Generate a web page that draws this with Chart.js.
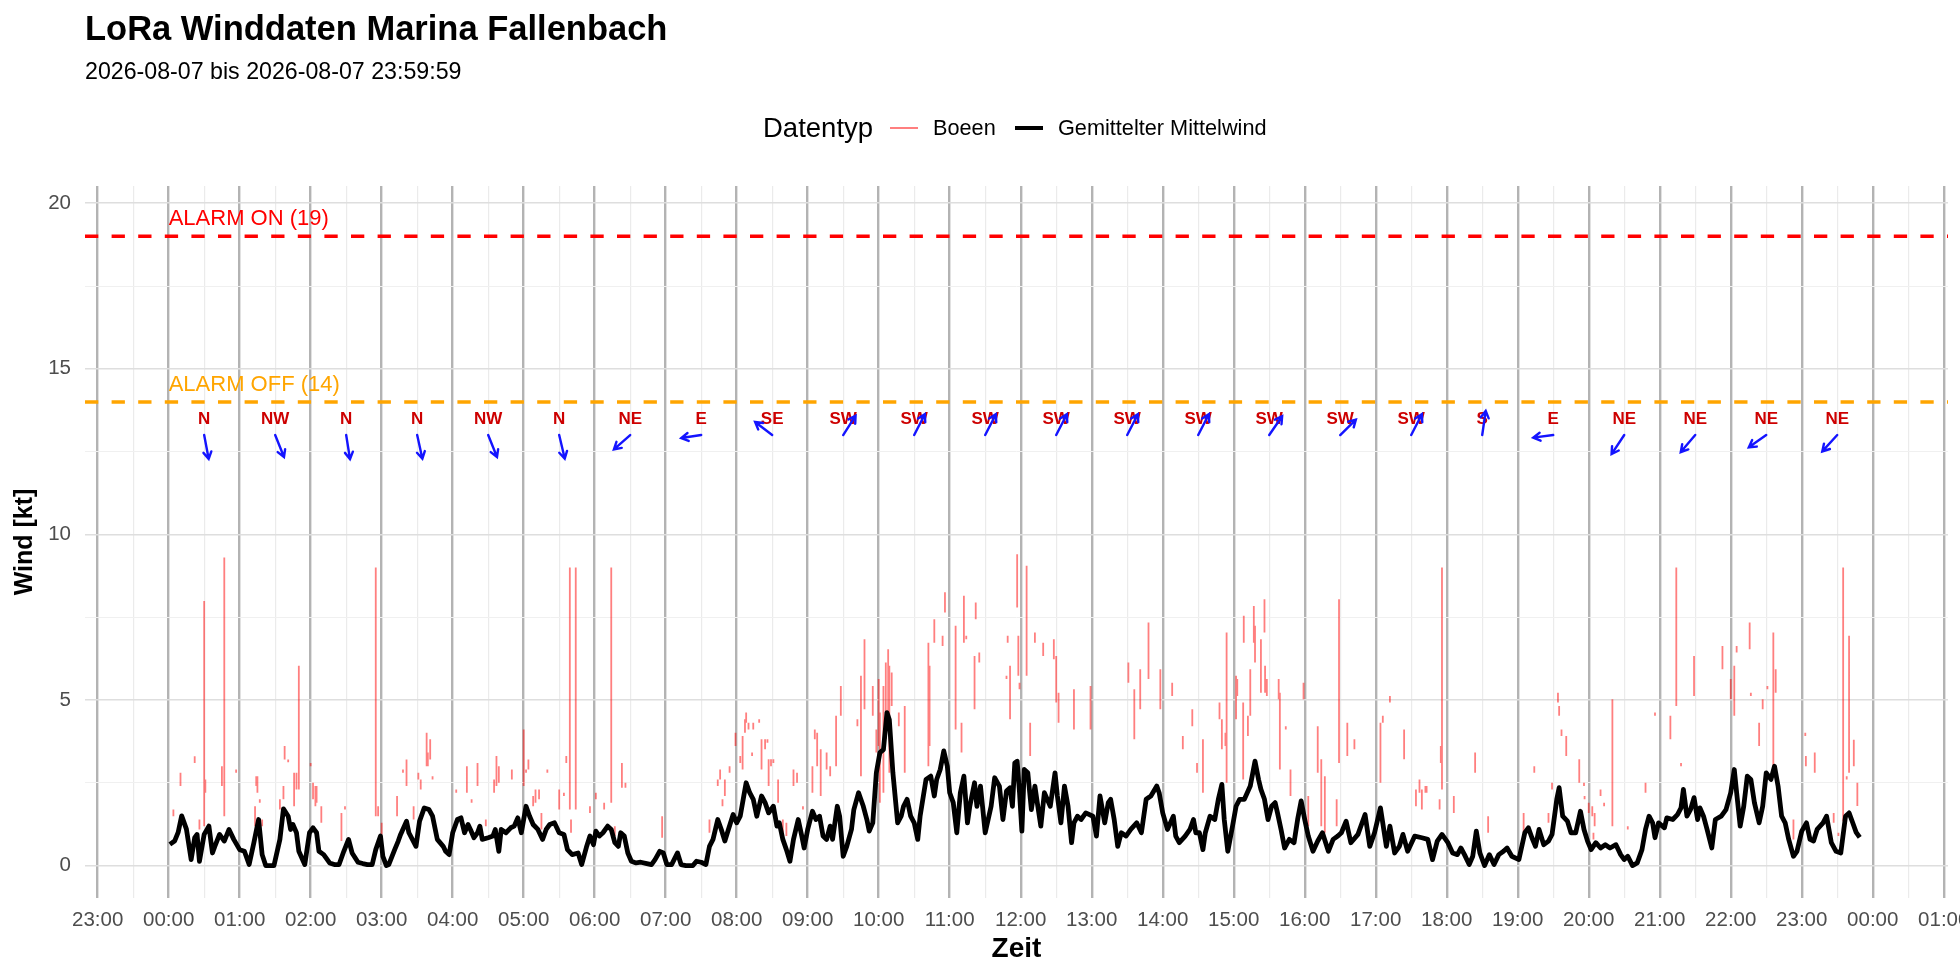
<!DOCTYPE html>
<html>
<head>
<meta charset="utf-8">
<title>LoRa Winddaten Marina Fallenbach</title>
<script src="https://cdn.jsdelivr.net/npm/chart.js@4.4.1/dist/chart.umd.min.js"></script>
<style>
  html, body { margin: 0; padding: 0; background: #fff; }
  #wrap { position: relative; width: 1960px; height: 980px; overflow: hidden;
          font-family: "Liberation Sans", Arial, Helvetica, sans-serif; color: #000; }
  #windChart { position: absolute; left: 0; top: 0; }
  .txt { position: absolute; line-height: 1; white-space: nowrap; }
  .title { left: 85px; top: 11px; font-size: 34.5px; font-weight: bold; }
  .subtitle { left: 85px; top: 60px; font-size: 23.2px; }
  .legend-title { left: 763px; top: 114px; font-size: 27.5px; }
  .legend-label { top: 117px; font-size: 21.7px; }
  .key { position: absolute; top: 128px; width: 28px; }
</style>
</head>
<body>
<div id="wrap">
  <canvas id="windChart" width="1960" height="980"></canvas>
  <div class="txt title">LoRa Winddaten Marina Fallenbach</div>
  <div class="txt subtitle">2026-08-07 bis 2026-08-07 23:59:59</div>
  <div class="txt legend-title">Datentyp</div>
  <div class="key" style="left:890px; height:2px; margin-top:-1px; background:rgba(255,0,0,0.5);"></div>
  <div class="txt legend-label" style="left:933px;">Boeen</div>
  <div class="key" style="left:1015px; height:4px; margin-top:-2px; background:#000;"></div>
  <div class="txt legend-label" style="left:1058px;">Gemittelter Mittelwind</div>
</div>
<script>
// Achsenbereich (Minuten ab 00:00 bzw. kt)
const X_MIN = -70.7;
const X_MAX = 1503.6;
const Y_MIN = -0.98;
const Y_MAX = 20.52;

// Gemittelter Mittelwind: Zeit (min ab 00:00) und Wert (kt)
const meanTimes = [
  1, 5, 8, 11, 15, 19, 22, 24, 26, 30, 34, 37, 39, 43, 47, 51, 55, 60, 64, 68,
  72, 76, 79, 82, 89, 94, 97, 101, 103, 105, 108, 110, 115, 119, 122, 125, 127, 131, 133, 136,
  140, 144, 148, 152, 155, 160, 164, 168, 172, 175, 179, 181, 184, 186, 191, 194, 196, 201, 203, 209,
  212, 216, 220, 223, 227, 232, 234, 237, 240, 244, 247, 250, 253, 255, 258, 261, 263, 265, 270, 274,
  276, 279, 281, 285, 289, 292, 295, 298, 302, 305, 308, 312, 316, 319, 322, 326, 330, 334, 337, 341,
  346, 349, 353, 356, 359, 361, 364, 367, 371, 374, 377, 380, 382, 385, 388, 391, 395, 399, 404, 408,
  411, 415, 418, 421, 425, 430, 433, 437, 443, 446, 450, 454, 457, 460, 464, 467, 470, 473, 477, 480,
  483, 486, 488, 491, 494, 497, 501, 504, 507, 511, 514, 516, 519, 522, 525, 528, 532, 535, 537, 540,
  544, 547, 550, 553, 556, 559, 561, 565, 567, 570, 573, 577, 579, 583, 587, 590, 592, 595, 598, 601,
  604, 607, 609, 612, 616, 619, 621, 624, 627, 630, 633, 635, 640, 644, 647, 649, 652, 655, 658, 660,
  663, 666, 669, 672, 675, 677, 681, 683, 686, 690, 695, 698, 702, 705, 708, 711, 713, 715, 717, 719,
  721, 723, 726, 729, 732, 734, 737, 740, 745, 749, 751, 754, 757, 760, 763, 765, 768, 771, 775, 781,
  784, 787, 791, 794, 796, 799, 802, 805, 809, 813, 818, 822, 826, 830, 835, 837, 840, 844, 849, 851,
  854, 859, 863, 866, 868, 871, 874, 876, 880, 884, 887, 890, 892, 895, 899, 902, 905, 909, 914, 918,
  921, 923, 926, 929, 932, 935, 937, 940, 943, 947, 951, 954, 957, 960, 963, 967, 971, 975, 980, 984,
  988, 991, 995, 999, 1005, 1011, 1015, 1019, 1024, 1029, 1032, 1036, 1040, 1043, 1047, 1053, 1059, 1064, 1068, 1072,
  1076, 1081, 1085, 1089, 1092, 1095, 1099, 1102, 1105, 1108, 1112, 1116, 1120, 1124, 1128, 1131, 1135, 1141, 1146, 1149,
  1152, 1155, 1158, 1162, 1166, 1169, 1173, 1175, 1178, 1182, 1185, 1189, 1193, 1196, 1199, 1202, 1206, 1210, 1214, 1218,
  1223, 1227, 1230, 1233, 1237, 1241, 1245, 1248, 1251, 1254, 1256, 1259, 1264, 1266, 1271, 1275, 1278, 1280, 1283, 1286,
  1289, 1292, 1294, 1297, 1300, 1304, 1307, 1312, 1316, 1320, 1323, 1325, 1328, 1331, 1334, 1337, 1340, 1344, 1347, 1350,
  1354, 1357, 1360, 1363, 1366, 1369, 1373, 1376, 1380, 1384, 1387, 1390, 1393, 1398, 1401, 1405, 1409, 1413, 1417, 1420,
  1423, 1426, 1429
];
const meanValues = [
  0.64, 0.74, 1.0, 1.5, 1.1, 0.18, 0.84, 0.94, 0.13, 0.94, 1.19, 0.38, 0.58, 0.94, 0.74, 1.09, 0.79, 0.48, 0.43, 0.03,
  0.69, 1.39, 0.33, 0, 0, 0.79, 1.71, 1.49, 1.09, 1.24, 0.99, 0.43, 0.03, 0.99, 1.14, 0.99, 0.43, 0.33, 0.23, 0.08,
  0.03, 0.03, 0.43, 0.79, 0.38, 0.1, 0.06, 0.03, 0.03, 0.48, 0.89, 0.28, 0, 0.03, 0.48, 0.74, 0.94, 1.34, 0.99, 0.58,
  1.34, 1.74, 1.69, 1.49, 0.79, 0.58, 0.43, 0.33, 0.99, 1.39, 1.44, 0.99, 1.24, 1.09, 0.84, 0.99, 1.19, 0.79, 0.84, 0.89,
  1.09, 0.43, 1.09, 0.99, 1.14, 1.19, 1.44, 0.99, 1.79, 1.49, 1.24, 1.09, 0.79, 1.09, 1.24, 1.29, 0.99, 0.94, 0.48, 0.33,
  0.38, 0.03, 0.55, 0.89, 0.63, 1.04, 0.89, 0.99, 1.19, 1.09, 0.69, 0.58, 0.99, 0.89, 0.38, 0.13, 0.08, 0.1, 0.06, 0.03,
  0.18, 0.43, 0.38, 0.03, 0.03, 0.38, 0.03, 0, 0, 0.13, 0.1, 0.03, 0.58, 0.79, 1.39, 1.09, 0.74, 1.09, 1.54, 1.29,
  1.49, 2.1, 2.5, 2.2, 2.0, 1.49, 2.1, 1.9, 1.59, 1.79, 1.19, 1.29, 0.79, 0.48, 0.13, 0.79, 1.39, 0.89, 0.53, 1.09,
  1.64, 1.39, 1.49, 0.89, 0.79, 1.19, 0.79, 1.79, 1.49, 0.28, 0.58, 1.09, 1.69, 2.2, 1.79, 1.39, 1.04, 1.29, 2.8, 3.41,
  3.5, 4.62, 4.4, 2.8, 1.29, 1.49, 1.79, 2.0, 1.49, 1.29, 0.79, 1.49, 2.6, 2.7, 2.1, 2.6, 2.9, 3.46, 3.0, 2.2,
  1.9, 0.99, 2.2, 2.7, 1.29, 1.79, 2.5, 1.79, 2.4, 0.99, 1.79, 2.65, 2.4, 1.39, 2.25, 2.35, 1.79, 3.1, 3.15, 2.2,
  1.04, 2.9, 2.8, 1.69, 2.4, 1.9, 1.19, 2.2, 1.79, 2.8, 2.1, 1.29, 2.4, 1.79, 0.69, 1.29, 1.49, 1.39, 1.59, 1.49,
  0.89, 2.1, 1.29, 1.9, 2.0, 1.39, 0.58, 0.99, 0.89, 1.09, 1.29, 0.99, 2.0, 2.1, 2.4, 2.2, 1.59, 1.09, 1.49, 0.89,
  0.69, 0.89, 1.09, 1.39, 0.99, 0.99, 0.48, 0.99, 1.49, 1.39, 2.0, 2.45, 1.39, 0.43, 1.19, 1.79, 2.0, 2.0, 2.4, 3.15,
  2.6, 2.3, 2.0, 1.39, 1.79, 1.9, 1.59, 1.09, 0.53, 0.79, 0.69, 1.39, 1.95, 1.39, 0.89, 0.43, 0.74, 0.99, 0.43, 0.79,
  0.89, 0.99, 1.34, 0.69, 0.94, 1.54, 0.58, 0.99, 1.74, 0.58, 1.19, 0.38, 0.58, 0.94, 0.43, 0.89, 0.84, 0.79, 0.18, 0.74,
  0.94, 0.69, 0.38, 0.33, 0.53, 0.33, 0.03, 0.28, 1.04, 0.38, 0, 0.33, 0.03, 0.33, 0.43, 0.53, 0.28, 0.18, 0.99, 1.14,
  0.84, 0.58, 1.09, 0.63, 0.74, 0.94, 2.0, 2.35, 1.49, 1.34, 0.99, 0.99, 1.64, 1.09, 0.74, 0.48, 0.69, 0.53, 0.63, 0.53,
  0.63, 0.33, 0.18, 0.28, 0, 0.08, 0.48, 1.09, 1.49, 1.29, 0.84, 1.29, 1.14, 1.44, 1.39, 1.54, 1.74, 2.3, 1.49, 1.69,
  2.05, 1.39, 1.74, 1.49, 1.09, 0.53, 1.39, 1.49, 1.69, 2.2, 2.9, 2.2, 1.19, 1.79, 2.7, 2.6, 1.9, 1.29, 1.79, 2.8,
  2.6, 3.0, 2.4, 1.49, 1.29, 0.79, 0.28, 0.43, 1.04, 1.29, 0.79, 0.74, 1.09, 1.29, 1.49, 0.69, 0.43, 0.38, 1.49, 1.59,
  1.3, 1.0, 0.85
];

// Boeen: senkrechte Abschnitte (Zeit, unterer und oberer Wert in kt)
const gustTimes = [
  4, 10, 22, 26, 30, 31, 45, 47, 57, 73, 74, 75, 77, 79, 94, 97, 98, 101, 106, 108,
  110, 120, 122, 124, 125, 129, 146, 149, 175, 177, 180, 193, 198, 201, 207, 211, 213, 218, 219, 221,
  223, 243, 252, 256, 261, 268, 275, 277, 279, 290, 300, 302, 304, 308, 310, 313, 315, 320, 330, 334,
  336, 339, 340, 344, 356, 361, 368, 374, 377, 383, 386, 417, 457, 464, 466, 468, 470, 474, 479, 483,
  485, 487, 488, 490, 493, 494, 499, 501, 504, 506, 507, 509, 511, 515, 519, 522, 528, 531, 536, 544,
  546, 548, 551, 556, 559, 564, 568, 582, 585, 588, 595, 598, 600, 601, 604, 606, 608, 609, 611, 617,
  622, 642, 643, 647, 654, 656, 665, 670, 672, 674, 681, 682, 685, 708, 709, 711, 717, 718, 719, 725,
  728, 732, 739, 748, 750, 752, 765, 779, 811, 816, 821, 828, 838, 848, 857, 865, 869, 874, 888, 890,
  893, 894, 902, 903, 908, 908.5, 912, 914, 917, 918, 923, 926, 926.5, 928, 938, 939, 944, 948, 959, 963,
  971, 974, 977, 987, 989, 996, 1002, 1024, 1026, 1032, 1044, 1054, 1057, 1059, 1062, 1063, 1074, 1075, 1076, 1086,
  1104, 1115, 1145, 1154, 1166, 1169, 1174, 1175, 1177, 1181, 1192, 1196, 1196.5, 1200, 1203, 1204, 1205, 1210, 1213, 1220,
  1233, 1248, 1256, 1269, 1274, 1278, 1289, 1313, 1320, 1323, 1325, 1336, 1337, 1344, 1347, 1351, 1356, 1358, 1373, 1383,
  1383.5, 1391, 1407, 1411, 1415, 1418, 1420, 1424, 1427
];
const gustLow = [
  1.49, 2.4, 3.1, 1.09, 1.19, 2.2, 2.4, 1.49, 2.8, 1.19, 2.4, 2.2, 1.9, 1.19, 1.69, 2.0, 3.2, 3.12, 1.79, 2.3,
  2.3, 3.0, 2.0, 1.79, 1.9, 1.29, 0.74, 1.69, 1.49, 1.49, 0.94, 1.49, 2.8, 2.4, 1.39, 2.6, 2.3, 3.0, 3.0, 3.2,
  2.6, 2.2, 2.2, 1.9, 2.4, 1.19, 2.2, 2.4, 2.5, 2.6, 2.4, 2.8, 2.9, 1.79, 1.9, 2.0, 1.09, 2.8, 1.69, 2.1,
  3.1, 1.69, 0.99, 1.69, 1.59, 2.0, 1.69, 1.9, 0.89, 2.35, 2.35, 0.84, 0.99, 2.4, 2.6, 1.79, 2.1, 2.8, 3.61, 3.1,
  2.9, 4.01, 4.31, 4.11, 3.31, 4.11, 4.31, 2.9, 3.51, 3.71, 2.4, 3.0, 3.1, 1.9, 0.99, 0.89, 2.4, 2.5, 1.69, 2.2,
  3.81, 3.0, 2.1, 2.9, 2.7, 3.0, 4.52, 4.21, 2.7, 4.72, 4.52, 3.41, 3.61, 1.9, 2.2, 3.81, 4.21, 2.8, 4.82, 4.21,
  2.8, 3.0, 3.61, 6.73, 6.63, 7.64, 4.11, 3.41, 6.73, 6.83, 4.72, 7.44, 6.13, 5.63, 6.73, 4.42, 7.79, 5.73, 5.32, 5.73,
  3.31, 6.73, 6.33, 6.23, 4.92, 4.31, 4.11, 4.11, 5.52, 3.81, 4.72, 5.63, 4.72, 5.12, 3.51, 4.21, 2.8, 2.2, 4.42, 3.51,
  3.61, 2.5, 4.42, 5.12, 2.6, 6.73, 3.91, 4.52, 6.73, 6.13, 5.22, 7.04, 5.22, 5.12, 5.02, 2.9, 4.11, 2.1, 5.02, 1.19,
  2.8, 1.19, 0.99, 1.19, 3.1, 3.31, 3.51, 2.5, 4.31, 4.92, 3.21, 1.79, 2.2, 1.69, 2.2, 2.2, 1.69, 3.1, 2.3, 1.59,
  2.8, 0.99, 0.99, 2.8, 1.29, 2.3, 4.92, 4.52, 3.91, 3.31, 2.5, 2.4, 2.0, 1.59, 1.49, 0.79, 1.19, 2.1, 1.79, 1.19,
  1.09, 2.2, 4.52, 3.81, 4.82, 3.0, 5.12, 5.93, 5.02, 4.52, 6.43, 6.53, 5.12, 3.61, 4.72, 5.32, 2.8, 5.22, 0.79, 3.91,
  3.0, 2.8, 1.29, 0.89, 1.34, 2.6, 2.8, 3.0, 1.8
];
const gustHigh = [
  1.69, 2.8, 3.3, 1.39, 7.99, 2.6, 3.0, 9.3, 2.9, 1.79, 2.7, 2.7, 2.0, 1.39, 2.0, 2.4, 3.61, 3.2, 2.8, 2.8,
  6.03, 3.1, 2.5, 2.4, 2.4, 1.79, 1.59, 1.79, 9.0, 1.79, 1.29, 2.1, 2.9, 3.2, 1.79, 2.8, 2.6, 4.01, 3.41, 3.81,
  2.7, 2.3, 3.0, 2.0, 3.1, 1.39, 2.6, 3.31, 3.0, 2.9, 4.11, 2.9, 3.2, 2.1, 2.3, 2.3, 1.59, 2.9, 2.3, 2.2,
  3.31, 9.0, 1.39, 9.0, 1.79, 2.2, 1.9, 9.0, 1.19, 3.1, 2.5, 1.49, 1.39, 2.6, 2.9, 2.0, 2.6, 3.0, 4.01, 3.31,
  3.91, 4.42, 4.62, 4.31, 3.41, 4.31, 4.42, 3.81, 3.81, 3.81, 3.21, 3.21, 3.21, 2.6, 1.39, 1.29, 2.9, 2.8, 1.79, 3.0,
  4.11, 4.01, 3.51, 3.41, 3.0, 4.52, 5.42, 4.42, 5.73, 6.83, 5.42, 4.11, 5.63, 4.62, 5.42, 6.13, 6.53, 6.03, 5.83, 4.62,
  4.82, 6.73, 6.03, 7.44, 6.94, 8.25, 7.24, 4.31, 8.15, 6.94, 6.33, 7.94, 6.43, 5.73, 6.94, 6.03, 9.4, 6.94, 5.52, 9.05,
  4.31, 7.04, 6.73, 6.83, 6.33, 5.22, 5.32, 5.42, 6.13, 5.32, 5.93, 7.34, 5.93, 5.52, 3.91, 4.72, 3.1, 3.81, 4.92, 4.42,
  4.01, 7.04, 5.73, 5.63, 4.92, 7.54, 4.52, 5.93, 7.84, 7.24, 6.83, 8.04, 6.03, 5.63, 5.63, 5.22, 4.21, 2.9, 5.52, 2.1,
  4.21, 3.21, 2.7, 2.0, 8.04, 4.31, 3.81, 4.31, 4.52, 5.12, 4.11, 2.3, 2.6, 2.3, 2.4, 2.4, 2.0, 3.61, 9.0, 2.1,
  3.41, 1.49, 1.59, 3.0, 1.59, 2.5, 5.22, 4.82, 4.11, 3.91, 3.21, 2.5, 2.1, 1.9, 1.79, 0.99, 1.59, 2.3, 1.9, 5.02,
  1.19, 2.5, 4.62, 4.52, 9.0, 3.1, 6.33, 6.63, 5.63, 6.03, 6.63, 7.34, 5.22, 4.31, 5.02, 5.42, 7.04, 5.93, 1.39, 4.01,
  3.31, 3.41, 1.59, 0.99, 9.0, 2.7, 6.94, 3.8, 2.5
];

// Windrichtung je Stunde (Mitte der Stunde), Herkunftsrichtung in Grad
const dirTimes = [30, 90, 150, 210, 270, 330, 390, 450, 510, 570, 630, 690,
                  750, 810, 870, 930, 990, 1050, 1110, 1170, 1230, 1290, 1350, 1410];
const dirLabels = ['N', 'NW', 'N', 'N', 'NW', 'N', 'NE', 'E', 'SE', 'SW', 'SW', 'SW',
                   'SW', 'SW', 'SW', 'SW', 'SW', 'SW', 'S', 'E', 'NE', 'NE', 'NE', 'NE'];
const dirDegrees = [347, 334, 349, 345, 334, 344, 54, 83, 122, 218, 212, 212,
                    212, 212, 212, 220, 231, 212, 190, 84, 39, 46, 60, 48];

// Alarmschwellen
const alarmLevels = [19, 14];
const alarmLabels = ['ALARM ON (19)', 'ALARM OFF (14)'];
const alarmColors = ['#FF0000', '#FFA500'];

const FONT = '"Liberation Sans", Arial, Helvetica, sans-serif';
Chart.defaults.font.family = FONT;

const meanPoints = meanTimes.map((t, i) => ({ x: t, y: meanValues[i] }));
const gustPoints = [];
gustTimes.forEach((t, i) => {
    gustPoints.push({ x: t, y: gustLow[i] }, { x: t, y: gustHigh[i] }, { x: t, y: null });
});

const pad2 = n => String(n).padStart(2, '0');

// Texte und Pfeile fuer Alarm und Windrichtung
const windAnnotations = {
    id: 'windAnnotations',
    afterDatasetsDraw(chart) {
        const { ctx, scales: { x, y } } = chart;
        ctx.save();

        ctx.font = '22px ' + FONT;
        ctx.textAlign = 'left';
        ctx.textBaseline = 'middle';
        alarmLevels.forEach((lvl, i) => {
            ctx.fillStyle = alarmColors[i];
            ctx.fillText(alarmLabels[i], x.getPixelForValue(0), y.getPixelForValue(lvl + 0.52));
        });

        dirTimes.forEach((t, i) => {
            const px = x.getPixelForValue(t);
            ctx.font = 'bold 17px ' + FONT;
            ctx.textAlign = 'center';
            ctx.fillStyle = '#CD0000';
            ctx.fillText(dirLabels[i], px, y.getPixelForValue(13.46));

            const to = (dirDegrees[i] + 180) * Math.PI / 180;
            const x0 = px;
            const y0 = y.getPixelForValue(13);
            const x1 = x.getPixelForValue(t + 17 * Math.sin(to));
            const y1 = y.getPixelForValue(13 + 0.74 * Math.cos(to));
            const ang = Math.atan2(y1 - y0, x1 - x0);
            const head = 8;

            ctx.strokeStyle = '#1414FF';
            ctx.lineWidth = 2.4;
            ctx.lineCap = 'round';
            ctx.beginPath();
            ctx.moveTo(x0, y0);
            ctx.lineTo(x1, y1);
            ctx.moveTo(x1 - head * Math.cos(ang - Math.PI / 6), y1 - head * Math.sin(ang - Math.PI / 6));
            ctx.lineTo(x1, y1);
            ctx.lineTo(x1 - head * Math.cos(ang + Math.PI / 6), y1 - head * Math.sin(ang + Math.PI / 6));
            ctx.stroke();
        });
        ctx.restore();
    }
};

const ctx = document.getElementById('windChart').getContext('2d');

new Chart(ctx, {
    type: 'line',
    data: {
        datasets: [
            {
                label: 'Gemittelter Mittelwind',
                data: meanPoints,
                borderColor: '#000000',
                borderWidth: 4.8,
                order: 0
            },
            {
                label: 'Boeen',
                data: gustPoints,
                borderColor: 'rgba(255, 0, 0, 0.5)',
                borderWidth: 1.8,
                spanGaps: false,
                order: 1
            },
            {
                label: alarmLabels[0],
                data: [{ x: X_MIN, y: alarmLevels[0] }, { x: X_MAX, y: alarmLevels[0] }],
                borderColor: alarmColors[0],
                borderWidth: 3.5,
                borderDash: [13.3, 13.3],
                order: 2
            },
            {
                label: alarmLabels[1],
                data: [{ x: X_MIN, y: alarmLevels[1] }, { x: X_MAX, y: alarmLevels[1] }],
                borderColor: alarmColors[1],
                borderWidth: 3.5,
                borderDash: [13.3, 13.3],
                order: 2
            }
        ]
    },
    options: {
        responsive: false,
        animation: false,
        events: [],
        elements: {
            point: { radius: 0 },
            line: { tension: 0, borderCapStyle: 'butt', borderJoinStyle: 'round' }
        },
        layout: { padding: { top: 186, right: 12, left: 0, bottom: 0 } },
        plugins: {
            legend: { display: false },
            tooltip: { enabled: false },
            title: { display: false }
        },
        scales: {
            x: {
                type: 'linear',
                min: X_MIN,
                max: X_MAX,
                border: { display: false },
                grid: {
                    drawTicks: false,
                    color: c => (c.tick && c.tick.value % 60 === 0) ? '#B3B3B3' : '#EBEBEB',
                    lineWidth: c => (c.tick && c.tick.value % 60 === 0) ? 2.4 : 1.2
                },
                ticks: {
                    stepSize: 30,
                    includeBounds: false,
                    autoSkip: false,
                    maxRotation: 0,
                    padding: 10,
                    color: '#4D4D4D',
                    font: { size: 20.5 },
                    callback: v => {
                        if (v % 60 !== 0) return '';
                        const h = (((v / 60) % 24) + 24) % 24;
                        return pad2(h) + ':00';
                    }
                },
                title: {
                    display: true,
                    text: 'Zeit',
                    color: '#000',
                    font: { size: 28, weight: 'bold' },
                    padding: { top: 0, bottom: 14 }
                },
                afterFit: s => { s.height = 82; s.paddingLeft = 0; s.paddingRight = 0; }
            },
            y: {
                min: Y_MIN,
                max: Y_MAX,
                border: { display: false },
                grid: {
                    drawTicks: false,
                    color: c => (c.tick && c.tick.value % 5 === 0) ? '#DEDEDE' : '#F0F0F0',
                    lineWidth: c => (c.tick && c.tick.value % 5 === 0) ? 1.5 : 1
                },
                ticks: {
                    stepSize: 2.5,
                    includeBounds: false,
                    padding: 14,
                    color: '#4D4D4D',
                    font: { size: 20.5 },
                    callback: v => (v % 5 === 0 ? String(v) : '')
                },
                title: {
                    display: true,
                    text: 'Wind [kt]',
                    color: '#000',
                    font: { size: 25, weight: 'bold' },
                    padding: { top: 10, bottom: 0 }
                },
                afterFit: s => { s.width = 85; s.paddingTop = 0; s.paddingBottom = 0; }
            }
        }
    },
    plugins: [windAnnotations]
});
</script>
</body>
</html>
